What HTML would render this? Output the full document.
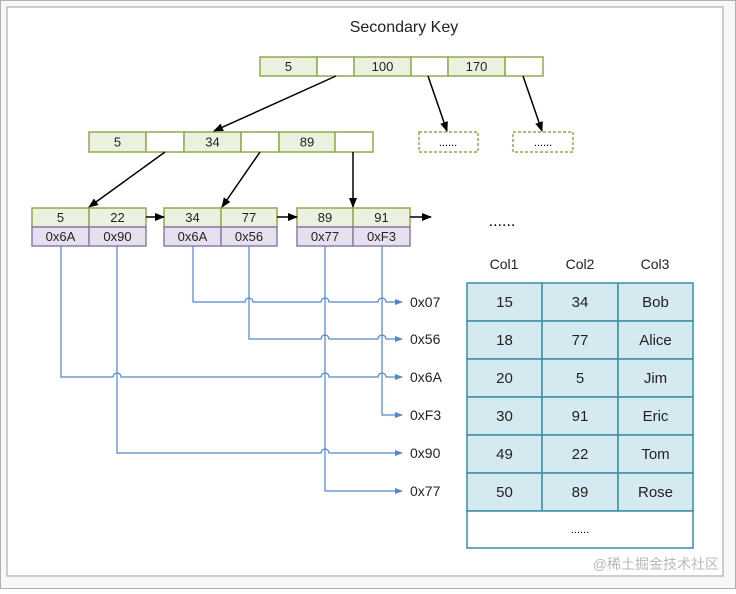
<!DOCTYPE html>
<html><head><meta charset="utf-8"><style>
html,body{margin:0;padding:0;background:#fff}
svg text{font-family:"Liberation Sans","Noto Sans CJK SC",sans-serif}
</style></head><body>
<svg id="s" width="736" height="589" viewBox="0 0 736 589" xmlns="http://www.w3.org/2000/svg">
<defs>
<marker id="ab" markerWidth="10" markerHeight="10" refX="9" refY="5" orient="auto" markerUnits="userSpaceOnUse"><path d="M0,1 L10,5 L0,9 z" fill="#000"/></marker>
<marker id="bl" markerWidth="8" markerHeight="8" refX="7" refY="4" orient="auto" markerUnits="userSpaceOnUse"><path d="M0,1 L8,4 L0,7 z" fill="#4f86cf"/></marker>
</defs>
<rect x="0.5" y="0.5" width="735" height="588" fill="#f7f7f7" stroke="#b0b0b0"/>
<rect x="7" y="7" width="716" height="569" fill="#fff" stroke="#bdbdbd" stroke-width="1.5"/>
<text x="404" y="32" font-size="16" text-anchor="middle" fill="#222">Secondary Key</text>
<g id="g"></g>
</svg>
<script>
const g=document.getElementById('g');let h='';
const G='#ebf1de',GB='#8eac4f',P='#e6e0ee',PB='#8f7bb0';
function cell(x1,x2,y1,y2,f,s,t,fs){h+=`<rect x="${x1}" y="${y1}" width="${x2-x1}" height="${y2-y1}" fill="${f}" stroke="${s}" stroke-width="1.5"/>`;if(t)h+=`<text x="${(x1+x2)/2}" y="${(y1+y2)/2+4.5}" font-size="${fs||13}" text-anchor="middle" fill="#222">${t}</text>`;}
// top node
[[260,317,'5',1],[317,354,'',0],[354,411,'100',1],[411,448,'',0],[448,505,'170',1],[505,543,'',0]].forEach(c=>cell(c[0],c[1],57,76,c[3]?G:'#fff',GB,c[2]));
[[89,146,'5',1],[146,184,'',0],[184,241,'34',1],[241,279,'',0],[279,335,'89',1],[335,373,'',0]].forEach(c=>cell(c[0],c[1],132,152,c[3]?G:'#fff',GB,c[2]));
h+=`<rect x="419" y="132" width="59" height="20" fill="#fff" stroke="${GB}" stroke-width="1.5" stroke-dasharray="3,2"/><text x="448" y="146" font-size="11" text-anchor="middle">......</text>`;
h+=`<rect x="513" y="132" width="60" height="20" fill="#fff" stroke="${GB}" stroke-width="1.5" stroke-dasharray="3,2"/><text x="543" y="146" font-size="11" text-anchor="middle">......</text>`;
const leaves=[[32,89,146,'5','22','0x6A','0x90'],[164,221,277,'34','77','0x6A','0x56'],[297,353,410,'89','91','0x77','0xF3']];
leaves.forEach(l=>{cell(l[0],l[1],208,227,G,GB,l[3]);cell(l[1],l[2],208,227,G,GB,l[4]);cell(l[0],l[1],227,246,P,PB,l[5]);cell(l[1],l[2],227,246,P,PB,l[6]);});
h+=`<text x="502" y="226" font-size="16" text-anchor="middle">......</text>`;
const A=(a,b,c,d)=>h+=`<line x1="${a}" y1="${b}" x2="${c}" y2="${d}" stroke="#000" stroke-width="1.5" marker-end="url(#ab)"/>`;
A(336,76,214,131);A(428,76,447,131);A(523,76,542,131);
A(165,152,89,207);A(260,152,222,207);A(353,152,353,207);
A(146,217,164,217);A(277,217,297,217);A(410,217,431,217);
// blue pointers
const P2=[[193,302,'0x07'],[249,339,'0x56'],[61,377,'0x6A'],[382,415,'0xF3'],[117,453,'0x90'],[325,491,'0x77']];
P2.forEach(p=>{const[x0,y,lab]=p;let d=`M${x0},246 L${x0},${y}`;
 const cr=P2.filter(q=>q[0]>x0&&q[1]>y).map(q=>q[0]).sort((a,b)=>a-b);
 cr.forEach(xv=>{d+=` L${xv-4},${y} A4,4 0 0 1 ${xv+4},${y}`;});
 d+=` L402,${y}`;
 h+=`<path d="${d}" fill="none" stroke="#4f86cf" stroke-width="1.2" marker-end="url(#bl)"/>`;
 h+=`<text x="410" y="${y+5}" font-size="14" fill="#222">${lab}</text>`;});
// table
['Col1','Col2','Col3'].forEach((t,i)=>h+=`<text x="${[504,580,655][i]}" y="269" font-size="14" text-anchor="middle" fill="#222">${t}</text>`);
const rows=[['15','34','Bob'],['18','77','Alice'],['20','5','Jim'],['30','91','Eric'],['49','22','Tom'],['50','89','Rose']];
const xs=[467,542,618,693];
rows.forEach((r,i)=>{const y=283+i*38;for(let j=0;j<3;j++){h+=`<rect x="${xs[j]}" y="${y}" width="${xs[j+1]-xs[j]}" height="38" fill="#d5eaf0" stroke="#3a8ea3" stroke-width="1.5"/><text x="${(xs[j]+xs[j+1])/2}" y="${y+24}" font-size="15" text-anchor="middle" fill="#222">${r[j]}</text>`;}});
h+=`<rect x="467" y="511" width="226" height="37" fill="#fff" stroke="#3a8ea3" stroke-width="1.5"/><text x="580" y="533" font-size="11" text-anchor="middle">......</text>`;
h+=`<text x="719" y="569" font-size="14" text-anchor="end" fill="#b8b8b8">@稀土掘金技术社区</text>`;
g.innerHTML=h;
</script>
</body></html>
